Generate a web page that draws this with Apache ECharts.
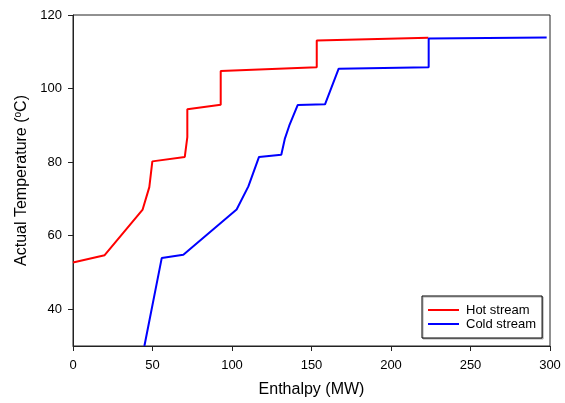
<!DOCTYPE html>
<html>
<head>
<meta charset="utf-8">
<script src="https://cdn.jsdelivr.net/npm/echarts@6/dist/echarts.min.js"></script>
<style>
  html, body { margin: 0; padding: 0; background: #fff; }
  #chart { width: 565px; height: 403px; }
</style>
</head>
<body>
<div id="chart"></div>
<script>
// composite curve points
const hotX = [0, 19.9, 43.8, 48, 49.9, 70.3, 71.9, 71.9, 92.9, 92.9, 153.3, 153.3, 223.5]
const hotY = [52.7, 54.7, 67.1, 73.2, 80.2, 81.4, 86.8, 94.4, 95.6, 104.8, 105.8, 113.1, 113.8]
const coldX = [44.9, 55.8, 69.4, 102.9, 110.3, 117.0, 131.0, 133.2, 136.0, 141.3, 158.5, 167.1, 223.7, 223.7, 297.9]
const coldY = [30, 53.9, 54.8, 67.1, 73.4, 81.4, 82.0, 86.3, 89.9, 95.5, 95.7, 105.4, 105.8, 113.6, 113.9]
const xTicks = [0, 50, 100, 150, 200, 250, 300]
const yTicks = [40, 60, 80, 100, 120]

const pairs = (xs, ys) => xs.map((x, i) => [x, ys[i]])

const font = 'Liberation Sans, Arial, sans-serif'

let myChart = echarts.init(document.getElementById('chart'))
myChart.setOption({
    animation: false,
    grid: {
        left: 73,
        right: 15,
        top: 15,
        bottom: 55,
        show: true,
        borderColor: '#222',
        borderWidth: 1
    },
    legend: {
        orient: 'vertical',
        left: 422,
        top: 296,
        padding: [7, 6, 7, 6],
        itemGap: 0,
        itemWidth: 31,
        itemHeight: 2,
        icon: 'rect',
        borderColor: '#000',
        borderWidth: 1,
        backgroundColor: '#fff',
        shadowColor: '#aaa',
        shadowOffsetX: 1,
        shadowOffsetY: 1,
        shadowBlur: 0,
        textStyle: {
            fontFamily: font,
            fontSize: 13,
            color: '#000',
            lineHeight: 14,
            padding: [0, 0, 0, 2]
        },
        data: ['Hot stream', 'Cold stream']
    },
    xAxis: {
        type: 'value',
        min: 0,
        max: 300,
        interval: 50,
        name: 'Enthalpy (MW)',
        nameLocation: 'middle',
        nameGap: 36,
        nameTextStyle: { fontFamily: font, fontSize: 16, color: '#000' },
        splitLine: { show: false },
        axisLine: { lineStyle: { color: '#222', width: 1 } },
        axisTick: { show: true, length: 5, lineStyle: { color: '#222' } },
        axisLabel: {
            fontFamily: font,
            fontSize: 13,
            color: '#000',
            margin: 13,
            customValues: xTicks
        }
    },
    yAxis: {
        type: 'value',
        min: 30,
        max: 120,
        name: 'Actual Temperature ({sup|o}C)',
        nameLocation: 'middle',
        nameGap: 38,
        nameTextStyle: {
            fontFamily: font,
            fontSize: 16,
            color: '#000',
            rich: {
                sup: { fontFamily: font, fontSize: 10, color: '#000', verticalAlign: 'top', padding: [0, 0, 6, 0] }
            }
        },
        splitLine: { show: false },
        axisLine: { show: true, lineStyle: { color: '#222', width: 1 } },
        axisTick: { show: true, length: 5, lineStyle: { color: '#222' }, customValues: yTicks },
        axisLabel: {
            fontFamily: font,
            fontSize: 13,
            color: '#000',
            margin: 11,
            customValues: yTicks
        }
    },
    series: [
        {
            name: 'Hot stream',
            type: 'line',
            data: pairs(hotX, hotY),
            showSymbol: false,
            itemStyle: { color: '#ff0000' },
            lineStyle: { color: '#ff0000', width: 2 }
        },
        {
            name: 'Cold stream',
            type: 'line',
            data: pairs(coldX, coldY),
            showSymbol: false,
            itemStyle: { color: '#0000ff' },
            lineStyle: { color: '#0000ff', width: 2 }
        }
    ]
})
</script>
</body>
</html>
